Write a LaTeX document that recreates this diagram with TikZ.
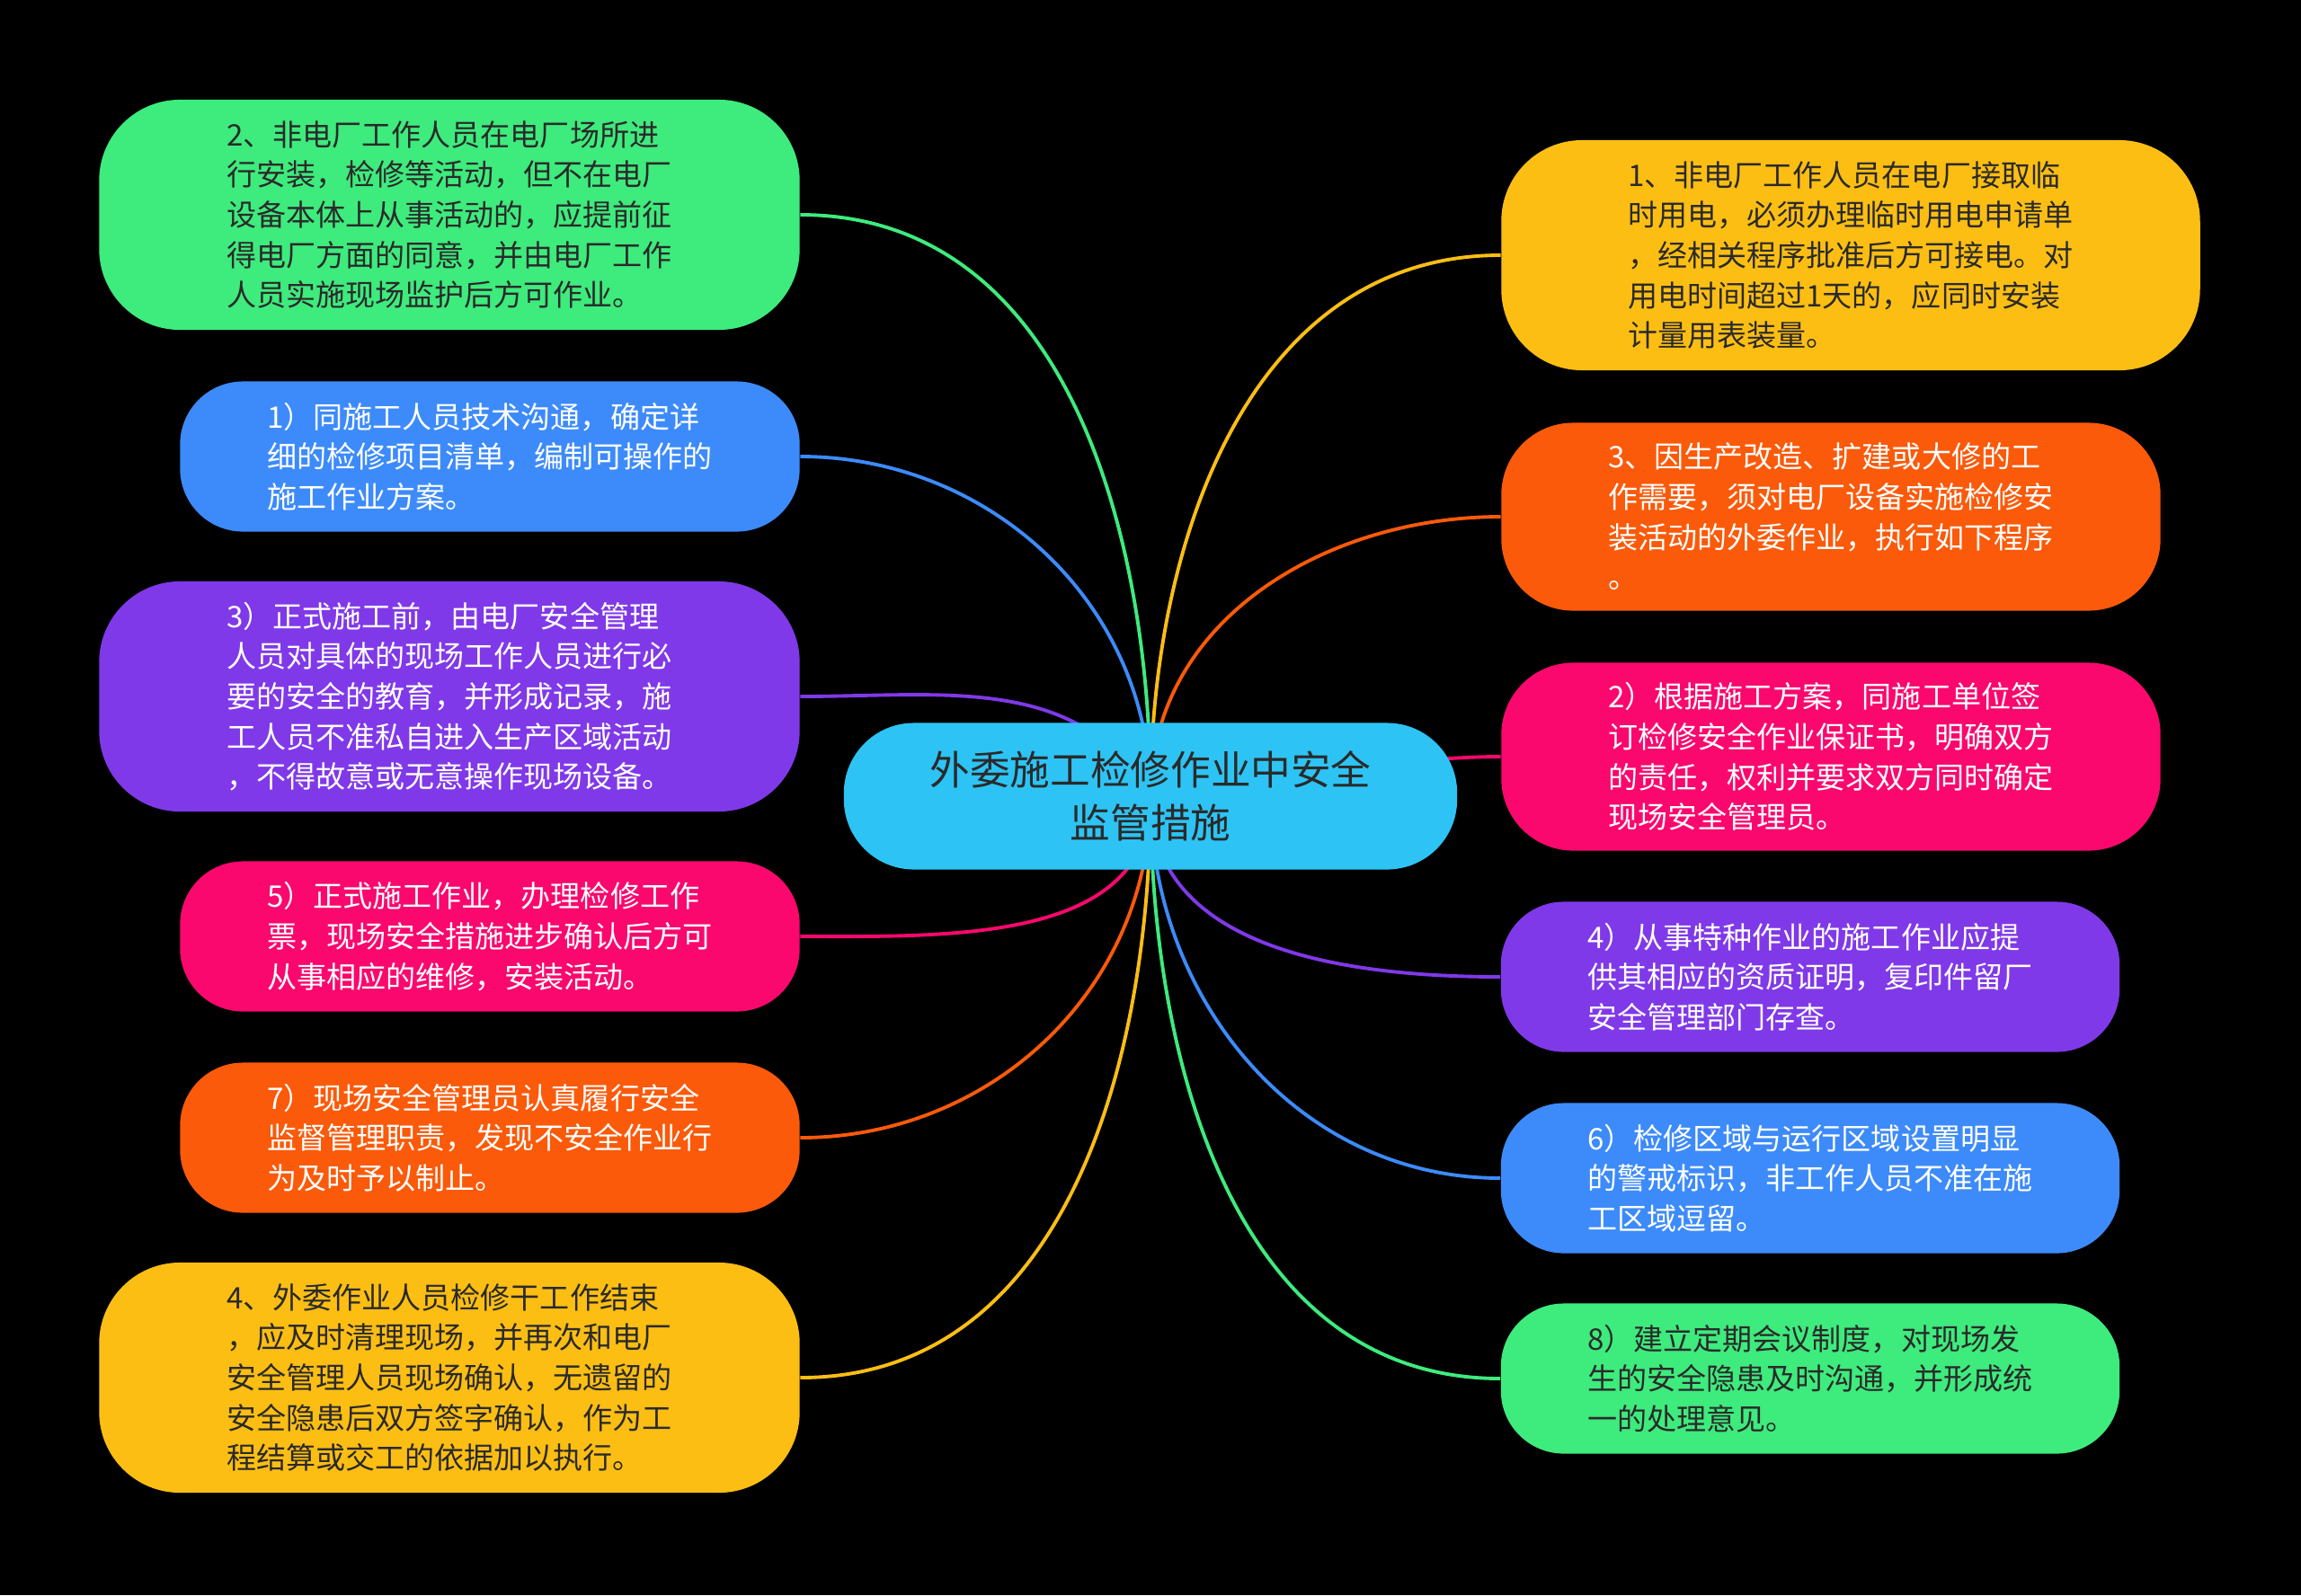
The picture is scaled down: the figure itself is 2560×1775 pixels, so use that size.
\documentclass[tikz,border=0pt]{standalone}
\usepackage{fontspec}
\newfontfamily\cjk{Noto Sans CJK SC}
\usetikzlibrary{backgrounds}

\definecolor{cgreen}{RGB}{62,235,125}
\definecolor{cblue}{RGB}{61,139,250}
\definecolor{cpurple}{RGB}{128,57,232}
\definecolor{cpink}{RGB}{250,8,110}
\definecolor{corange}{RGB}{250,90,10}
\definecolor{cyellow}{RGB}{253,190,20}
\definecolor{ccyan}{RGB}{45,196,245}
\definecolor{cdark}{RGB}{42,42,42}

\begin{document}
\begin{tikzpicture}[
    x=0.01cm, y=-0.01cm,
    topic/.style={align=left, inner sep=0pt,
                  font=\cjk\fontsize{9.4pt}{12.7pt}\selectfont},
    small/.style={rounded corners=0.7cm, minimum height=1.67cm},
    mid/.style={rounded corners=0.8cm, minimum height=2.09cm},
    big/.style={rounded corners=0.9cm, minimum height=2.56cm},
    dark/.style={fill=#1, text=cdark},
    light/.style={fill=#1, text=white},
    link/.style={line width=1.1pt, draw=#1}
  ]
  \useasboundingbox (0,0) rectangle (2560,1775);

  % Thema in der Mitte
  \node[topic, align=center, fill=ccyan, text=cdark, rounded corners=0.78cm,
        minimum width=6.82cm, minimum height=1.63cm,
        font=\cjk\fontsize{12.7pt}{16.7pt}\selectfont] (root) at (1280,886)
    {外委施工检修作业中安全\\监管措施};

  % linke Seite
  \node[topic, big, dark=cgreen, minimum width=7.79cm] (l1) at (500,239)
    {2、非电厂工作人员在电厂场所进\\行安装，检修等活动，但不在电厂\\设备本体上从事活动的，应提前征\\得电厂方面的同意，并由电厂工作\\人员实施现场监护后方可作业。};
  \node[topic, small, light=cblue, minimum width=6.89cm] (l2) at (545,508)
    {1）同施工人员技术沟通，确定详\\细的检修项目清单，编制可操作的\\施工作业方案。};
  \node[topic, big, light=cpurple, minimum width=7.79cm] (l3) at (500,775)
    {3）正式施工前，由电厂安全管理\\人员对具体的现场工作人员进行必\\要的安全的教育，并形成记录，施\\工人员不准私自进入生产区域活动\\，不得故意或无意操作现场设备。};
  \node[topic, small, light=cpink, minimum width=6.89cm] (l4) at (545,1042)
    {5）正式施工作业，办理检修工作\\票，现场安全措施进步确认后方可\\从事相应的维修，安装活动。};
  \node[topic, small, light=corange, minimum width=6.89cm] (l5) at (545,1266)
    {7）现场安全管理员认真履行安全\\监督管理职责，发现不安全作业行\\为及时予以制止。};
  \node[topic, big, dark=cyellow, minimum width=7.79cm] (l6) at (500,1533)
    {4、外委作业人员检修干工作结束\\，应及时清理现场，并再次和电厂\\安全管理人员现场确认，无遗留的\\安全隐患后双方签字确认，作为工\\程结算或交工的依据加以执行。};

  % rechte Seite
  \node[topic, big, dark=cyellow, minimum width=7.77cm] (r1) at (2059,284)
    {1、非电厂工作人员在电厂接取临\\时用电，必须办理临时用电申请单\\，经相关程序批准后方可接电。对\\用电时间超过1天的，应同时安装\\计量用表装量。};
  \node[topic, mid, light=corange, minimum width=7.33cm] (r2) at (2037,575)
    {3、因生产改造、扩建或大修的工\\作需要，须对电厂设备实施检修安\\装活动的外委作业，执行如下程序\\。};
  \node[topic, mid, light=cpink, minimum width=7.33cm] (r3) at (2037,842)
    {2）根据施工方案，同施工单位签\\订检修安全作业保证书，明确双方\\的责任，权利并要求双方同时确定\\现场安全管理员。};
  \node[topic, small, light=cpurple, minimum width=6.88cm] (r4) at (2014,1087)
    {4）从事特种作业的施工作业应提\\供其相应的资质证明，复印件留厂\\安全管理部门存查。};
  \node[topic, small, light=cblue, minimum width=6.88cm] (r5) at (2014,1311)
    {6）检修区域与运行区域设置明显\\的警戒标识，非工作人员不准在施\\工区域逗留。};
  \node[topic, small, dark=cgreen, minimum width=6.88cm] (r6) at (2014,1534)
    {8）建立定期会议制度，对现场发\\生的安全隐患及时沟通，并形成统\\一的处理意见。};

  \begin{scope}[on background layer]
    \fill[black] (0,0) rectangle (2560,1775);
    % Verbindungen
    \foreach \leaf/\col in {l1/cgreen, l2/cblue}
      \draw[link=\col] (root.center) to[out=90, in=0] (\leaf.east);
    \draw[link=cpurple] (root.center) to[out=120, in=0] (l3.east);
    \foreach \leaf/\col in {l4/cpink, l5/corange, l6/cyellow}
      \draw[link=\col] (root.center) to[out=-90, in=0] (\leaf.east);
    \foreach \leaf/\col in {r1/cyellow, r2/corange}
      \draw[link=\col] (root.center) to[out=90, in=180] (\leaf.west);
    \draw[link=cpink] (root.center) to[out=0, in=180] (r3.west);
    \foreach \leaf/\col in {r4/cpurple, r5/cblue, r6/cgreen}
      \draw[link=\col] (root.center) to[out=-90, in=180] (\leaf.west);
  \end{scope}
\end{tikzpicture}
\end{document}
